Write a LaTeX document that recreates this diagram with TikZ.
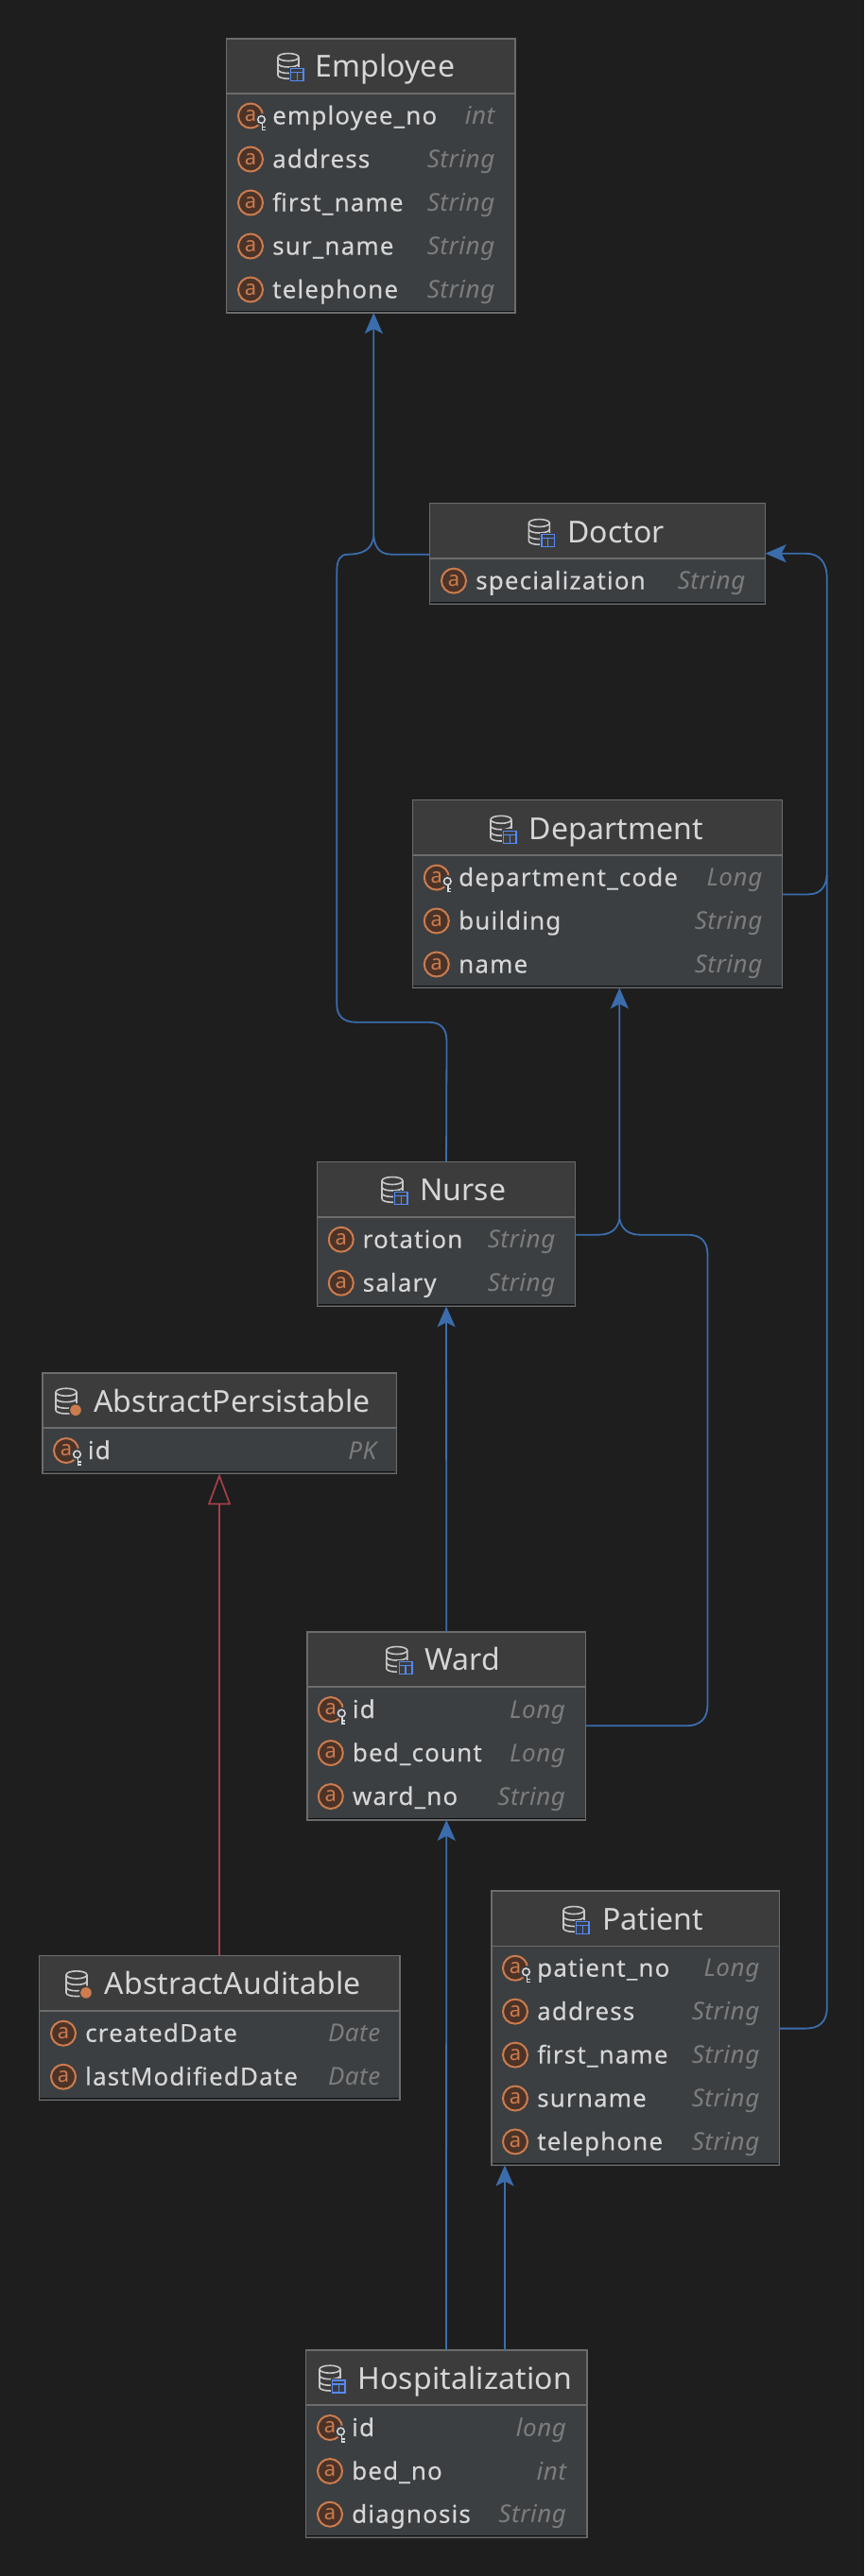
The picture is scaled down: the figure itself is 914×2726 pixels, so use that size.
\documentclass[tikz,border=0pt]{standalone}
\usepackage{fontspec}
\setmainfont{Noto Sans}
\newfontfamily\fieldfont[LetterSpace=4.3,FakeBold=0.12]{Noto Sans}
\newfontfamily\typefont[LetterSpace=2,ItalicFont={Noto Sans Italic}]{Noto Sans}
\newfontfamily\titlefont[LetterSpace=0.5]{Noto Sans}
\usetikzlibrary{arrows.meta}
\definecolor{bgc}{HTML}{1E1E1E}
\definecolor{headc}{HTML}{3C3C3C}
\definecolor{bodyc}{HTML}{3B3F42}
\definecolor{edgec}{HTML}{6C6C6C}
\definecolor{txtc}{HTML}{D6D6D6}
\definecolor{typec}{HTML}{7C7C7C}
\definecolor{orangec}{HTML}{CC7C4E}
\definecolor{brownc}{HTML}{4C3328}
\definecolor{bluec}{HTML}{3B6DAD}
\definecolor{redc}{HTML}{A5404A}
\definecolor{tablec}{HTML}{548AF7}
\definecolor{iconc}{HTML}{C8C8C8}
\definecolor{keyc}{HTML}{DADADA}
\tikzset{
  entitybox/.style={draw=edgec,fill=bodyc,line width=1.6pt,inner sep=0pt,outer sep=0pt},
  entitytitle/.style={anchor=base west,text=txtc,inner sep=0pt,font=\fontsize{32}{32}\selectfont\titlefont},
  fieldname/.style={anchor=base west,text=txtc,inner sep=0pt,font=\fontsize{26}{26}\selectfont\fieldfont},
  fieldtype/.style={anchor=base east,text=typec,inner sep=0pt,font=\fontsize{26}{26}\selectfont\typefont\itshape},
  attrmark/.style={circle,draw=orangec,fill=brownc,line width=2pt,minimum size=26pt,inner sep=0pt,text=orangec,font=\fontsize{22}{22}\selectfont},
  fk/.style={draw=bluec,line width=1.8pt,-{Stealth[length=22pt,width=19pt,inset=5pt]}},
  fkline/.style={draw=bluec,line width=1.8pt},
  inherit/.style={draw=redc,line width=1.7pt,-{Triangle[open,length=33pt,width=24pt,fill=bgc]}}
}
\newcount\nodeno
\newcommand{\entbox}[6]{%
  \pgfmathsetmacro{\cxx}{(#2+#4)/2}\pgfmathsetmacro{\cyy}{(#3+#5)/2}%
  \pgfmathsetmacro{\wdd}{#4-#2}\pgfmathsetmacro{\htt}{#5-#3}%
  \node[entitybox,minimum width=\wdd pt,minimum height=\htt pt] (#1) at (\cxx,\cyy) {};
  \fill[headc] (#2+1,#3+1) rectangle (#4-1,#6);
  \draw[edgec,line width=1.6pt] (#2,#6) -- (#4,#6);
  \draw[black!75!bodyc,line width=1pt] (#2+1,#5-1.6) -- (#4-1,#5-1.6);
}
\newcommand{\dbicon}[2]{%
  \begin{scope}[shift={(#1,#2)},line width=1.6pt]
    \draw[iconc] (0,-9.5) ellipse (11 and 4);
    \draw[iconc] (-11,-9.5) -- (-11,9.5) .. controls (-11,14.5) and (11,14.5) .. (11,9.5) -- (11,-9.5);
    \draw[iconc] (-11,-3) .. controls (-11,2.3) and (11,2.3) .. (11,-3);
    \draw[iconc] (-11,3.5) .. controls (-11,8.8) and (11,8.8) .. (11,3.5);
  \end{scope}}
\newcommand{\enttitle}[6]{% name y iconx titlex title kind
  \dbicon{#3}{#2}
  \ifnum#6=1
    \fill[headc] (#3+0.5,#2+0.5) rectangle (#3+17.5,#2+17);
    \draw[tablec,line width=1.6pt] (#3+2.5,#2+2.5) rectangle (#3+16,#2+15.5);
    \draw[tablec,line width=1.5pt] (#3+2.5,#2+6.5) -- (#3+16,#2+6.5) (#3+9.25,#2+6.5) -- (#3+9.25,#2+15.5);
  \else
    \fill[headc] (#3+10,#2+9.5) circle (7.5);
    \fill[orangec] (#3+10,#2+9.5) circle (5.8);
  \fi
  \node[entitytitle] (#1-title) at (#4,#2+11.5) {#5};
}
\newcommand{\rowa}[6]{% y cx textx rightx name type
  \global\advance\nodeno by 1
  \node[attrmark] (m\the\nodeno) at (#2,#1) {a};
  \node[fieldname] (f\the\nodeno) at (#3,#1+9) {#5};
  \node[fieldtype] (t\the\nodeno) at (#4+1.5,#1+9) {#6};
}
\newcommand{\rowk}[6]{%
  \rowa{#1}{#2}{#3}{#4}{#5}{#6}
  \begin{scope}[shift={(#2+11.5,#1+4)}]
    \fill[bodyc] (0,0) circle (6.5);
    \fill[bodyc] (-2,3) rectangle (5,12.5);
    \draw[keyc,line width=1.5pt] (0,0) circle (3.8);
    \draw[keyc,line width=1.5pt] (0.8,3.8) -- (0.8,11.5) (0.8,8) -- (4,8) (0.8,11) -- (4,11);
  \end{scope}
}
\begin{document}
\begin{tikzpicture}[x=1pt,y=-1pt]
\fill[bgc] (0,0) rectangle (914,2726);
\useasboundingbox (0,0) rectangle (914,2726);

% Employee
\entbox{emp}{239.5}{40.7}{544.7}{331}{99}
\enttitle{emp}{70}{305}{333}{Employee}{1}
\rowk{122.5}{265}{288}{522}{employee\_no}{int}
\rowa{168.5}{265}{288}{522}{address}{String}
\rowa{214.5}{265}{288}{522}{first\_name}{String}
\rowa{260.5}{265}{288}{522}{sur\_name}{String}
\rowa{306.5}{265}{288}{522}{telephone}{String}

% Doctor
\entbox{doc}{454.3}{532.5}{809.6}{639.3}{591}
\enttitle{doc}{563}{570.4}{600}{Doctor}{1}
\rowa{614.6}{480}{503}{787}{specialization}{String}

% Department
\entbox{dep}{436.4}{846.4}{827.5}{1045.4}{905}
\enttitle{dep}{876.8}{530}{559.6}{Department}{1}
\rowk{928.6}{461.8}{485}{805}{department\_code}{Long}
\rowa{974.5}{461.8}{485}{805}{building}{String}
\rowa{1020.5}{461.8}{485}{805}{name}{String}

% Nurse
\entbox{nur}{335.6}{1229.3}{608.5}{1382.3}{1288}
\enttitle{nur}{1259}{415}{444}{Nurse}{1}
\rowa{1311.7}{360.8}{383.5}{586}{rotation}{String}
\rowa{1357.7}{360.8}{383.5}{586}{salary}{String}

% AbstractPersistable
\entbox{per}{44.7}{1452.7}{419.4}{1559.3}{1510.7}
\enttitle{per}{1482.7}{70}{99}{AbstractPersistable}{0}
\rowk{1535}{70}{92.7}{397}{id}{PK}

% Ward
\entbox{war}{324.9}{1726.8}{619.6}{1925.8}{1785}
\enttitle{war}{1756}{419.8}{449}{Ward}{1}
\rowk{1809}{349.8}{372.7}{596.6}{id}{Long}
\rowa{1855}{349.8}{372.7}{596.6}{bed\_count}{Long}
\rowa{1901}{349.8}{372.7}{596.6}{ward\_no}{String}

% Patient
\entbox{pat}{519.7}{2001}{824.3}{2291.3}{2059.4}
\enttitle{pat}{2031}{607}{636.8}{Patient}{1}
\rowk{2082.7}{545}{568}{802}{patient\_no}{Long}
\rowa{2128.6}{545}{568}{802}{address}{String}
\rowa{2174.6}{545}{568}{802}{first\_name}{String}
\rowa{2220.5}{545}{568}{802}{surname}{String}
\rowa{2266.4}{545}{568}{802}{telephone}{String}

% AbstractAuditable
\entbox{aud}{41.3}{2069.3}{422.7}{2222.3}{2128}
\enttitle{aud}{2099.3}{81}{110.7}{AbstractAuditable}{0}
\rowa{2151.7}{67}{90}{401}{createdDate}{Date}
\rowa{2197.7}{67}{90}{401}{lastModifiedDate}{Date}

% Hospitalization
\entbox{hos}{323.3}{2486.7}{620.7}{2685.3}{2544.7}
\enttitle{hos}{2516.7}{349}{378.3}{Hospitalization}{1}
\rowk{2569}{349}{372}{597.7}{id}{long}
\rowa{2615}{349}{372}{597.7}{bed\_no}{int}
\rowa{2660.7}{349}{372}{597.7}{diagnosis}{String}

% connector anchors
\coordinate (empin) at (395.3,0);
\coordinate (docy) at (0,586.7);
\coordinate (docin) at (0,585.7);
\coordinate (depin) at (655.3,0);
\coordinate (depout) at (0,946.4);
\coordinate (nurout) at (0,1306.7);
\coordinate (warout) at (0,1826.3);
\coordinate (patout) at (0,2146.6);
\coordinate (patin) at (534,0);

% inheritance
\draw[inherit] (aud.north -| per.south) -- (per.south);

% Doctor -> Employee
\draw[fk] (doc.west |- docy) -- (415,586.7) .. controls (404,586.7) and (397,582) .. (395.3,568) -- (empin |- emp.south);
% Nurse -> Employee
\draw[fkline] (nur.north) -- (472.5,1101.7) .. controls (472.5,1088) and (466,1081.7) .. (453,1081.7) -- (376.7,1081.7)
  .. controls (363,1081.7) and (356.3,1075) .. (356.3,1063) -- (356.3,605)
  .. controls (356.3,592) and (360,586.7) .. (368,586.7) .. controls (384,586.3) and (393,582) .. (395.3,568);
% Department -> Doctor
\draw[fk] (dep.east |- depout) -- (855,946.4) .. controls (868,946.4) and (874,938) .. (874.7,926)
  -- (874.7,612) .. controls (874.7,595) and (867,585.7) .. (852,585.7) -- (doc.east |- docin);
% Patient -> Doctor
\draw[fkline] (pat.east |- patout) -- (852,2146.6) .. controls (866,2146.6) and (874.7,2140) .. (874.7,2125) -- (874.7,926);
% Nurse -> Department
\draw[fk] (nur.east |- nurout) -- (632,1306.7) .. controls (645,1306.7) and (653,1302) .. (655.3,1290) -- (depin |- dep.south);
% Ward -> Department
\draw[fkline] (war.east |- warout) -- (726,1826.3) .. controls (741,1826.3) and (748.4,1818) .. (748.4,1805) -- (748.4,1326.7)
  .. controls (748.4,1314) and (741,1306.7) .. (728,1306.7) -- (678,1306.7) .. controls (666,1306.7) and (658,1302) .. (655.3,1290);
% Ward -> Nurse
\draw[fk] (war.north) -- (nur.south);
% Hospitalization -> Ward
\draw[fk] (hos.north) -- (war.south);
% Hospitalization -> Patient
\draw[fk] (patin |- hos.north) -- (patin |- pat.south);
\end{tikzpicture}
\end{document}
